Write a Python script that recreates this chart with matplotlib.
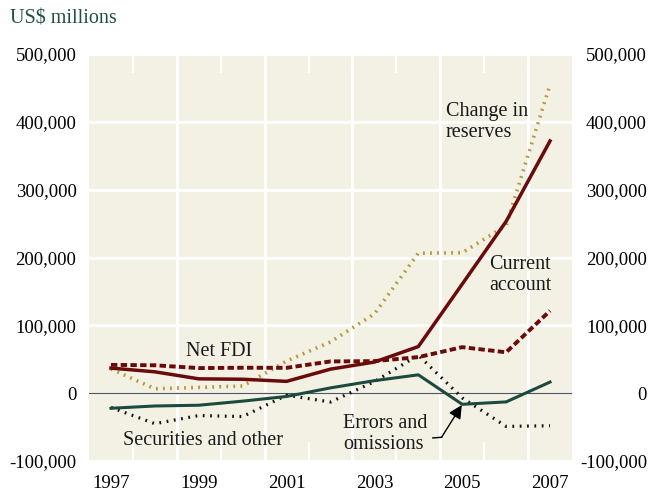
import matplotlib
matplotlib.use("Agg")
import matplotlib.pyplot as plt
import matplotlib.transforms as mtransforms
from matplotlib.ticker import FuncFormatter

years = [1997, 1998, 1999, 2000, 2001, 2002, 2003, 2004, 2005, 2006, 2007]
current_account = [36963, 31472, 21115, 20519, 17405, 35422, 45875, 68659, 160818, 253268, 371833]
net_fdi = [41674, 41118, 36978, 37483, 37356, 46790, 47229, 53131, 67821, 60265, 121418]
change_reserves = [35724, 6426, 8505, 10548, 47325, 75507, 116844, 206364, 207016, 247025, 455000]
errors_omissions = [-22254, -18902, -17788, -11748, -4856, 7794, 18422, 27045, -16441, -12877, 16402]
securities_other = [-21000, -45000, -33000, -34500, -3000, -13000, 17000, 56000, -7000, -49000, -48000]
year_labels = [1997, 1999, 2001, 2003, 2005, 2007]
y_ticks = [-100000, 0, 100000, 200000, 300000, 400000, 500000]

plt.rcParams['font.family'] = ['Liberation Serif', 'DejaVu Serif']

fig = plt.figure(figsize=(6.51, 4.91), dpi=100)
ax = fig.add_axes([89/651, 1-461/491, (572-89)/651, (461-54)/491])
ax.set_facecolor('#f3f1e3')
for s in ax.spines.values():
    s.set_visible(False)

ax.set_xlim(1996.5, 2007.5)
ax.set_ylim(-100000, 500000)

# grid
ax.set_yticks(y_ticks)
ax.yaxis.grid(True, color='white', lw=2.2)
for gx in [1998.5, 2000.5, 2002.5, 2004.5, 2006.5]:
    ax.axvline(gx, color='white', lw=2.2, zorder=0.5)
ax.set_axisbelow(True)
ax.axhline(0, color='#555555', lw=0.9, zorder=1)

ax.set_xticks(year_labels)
ax.set_xticklabels([str(y) for y in year_labels])
ax.set_xticks([y + 0.5 for y in years[:-1]], minor=True)
ax.tick_params(axis='x', which='major', length=0, pad=10, labelsize=13.5)
ax.tick_params(axis='x', which='minor', direction='in', length=14, width=1.6,
               color='white', top=True, bottom=True)

fmt = FuncFormatter(lambda v, p: f"{v:,.0f}")
ax.yaxis.set_major_formatter(fmt)
ax.tick_params(axis='y', which='major', length=0, labelsize=13.5,
               left=False, right=False, labelleft=True, labelright=False, pad=9)

# right-hand labels, right-aligned at the figure's right margin
right_tr = mtransforms.blended_transform_factory(fig.transFigure, ax.transData)
for v in y_ticks:
    fig.text(647/651, v, f"{v:,.0f}", ha='right', va='center_baseline', fontsize=13.5,
             transform=right_tr)

red = '#6b0a0a'
gold = '#b8963a'
green = '#1d4a3e'

ax.plot(years, change_reserves, color=gold, lw=2.6, linestyle=(0, (0.5, 1.45)),
        dash_capstyle='butt', zorder=2)
ax.plot(years, securities_other, color='#111111', lw=2.3, linestyle=(0, (0.55, 1.75)),
        dash_capstyle='butt', zorder=2)
ax.plot(years, errors_omissions, color=green, lw=2.2, zorder=3)
ax.plot(years, net_fdi, color=red, lw=2.8, linestyle=(0, (1.65, 0.85)),
        dash_capstyle='butt', zorder=3)
ax.plot(years, current_account, color=red, lw=2.5, zorder=4)

tk = dict(fontsize=14.5, color='#1a1a1a')
ax.text(2004.63, 400000, "Change in\nreserves", ha='left', va='center', linespacing=1.1, **tk)
ax.text(2005.62, 174000, "Current\naccount", ha='left', va='center', linespacing=1.1, **tk)
ax.text(1998.7, 62000, "Net FDI", ha='left', va='center', **tk)
ax.text(1997.28, -70000, "Securities and other", ha='left', va='center', **tk)
ax.text(2002.28, -60000, "Errors and\nomissions", ha='left', va='center', linespacing=1.1, **tk)

ax.plot([2004.33, 2004.53], [-66000, -65000], color='black', lw=1.0, zorder=5)
ax.annotate("", xy=(2004.99, -17500), xytext=(2004.53, -65000),
            arrowprops=dict(arrowstyle='-|>', color='black', lw=1.0,
                            mutation_scale=20, shrinkA=0, shrinkB=0), zorder=5)

fig.text(10/651, 1-19/491, "US$ millions", ha='left', va='center', fontsize=14.5, color='#1f4f45')

fig.savefig("out.png", dpi=100)
